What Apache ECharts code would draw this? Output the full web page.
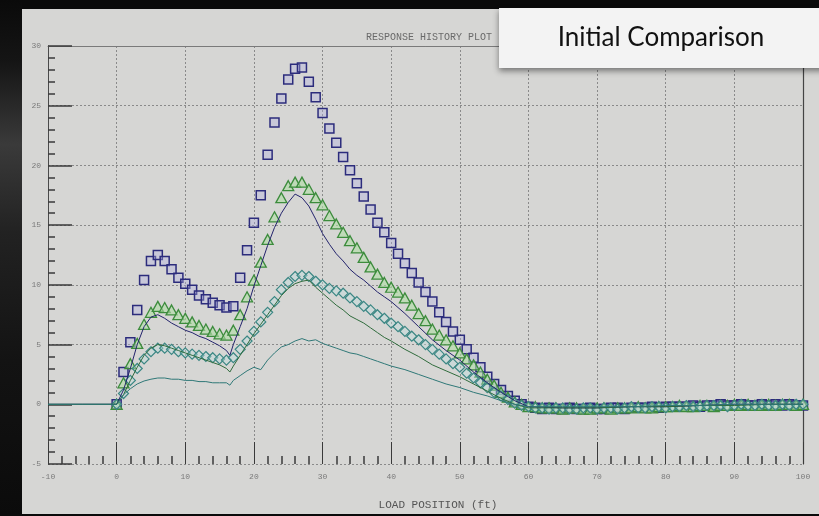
<!DOCTYPE html>
<html>
<head>
<meta charset="utf-8">
<script src="https://cdn.jsdelivr.net/npm/echarts@6/dist/echarts.min.js"></script>
<style>
  html, body { margin: 0; padding: 0; background: #0a0a0a; }
  #wrap { position: relative; width: 819px; height: 516px; overflow: hidden; background: #0a0a0a; }
  #strip { position: absolute; left: 0; top: 0; width: 22px; height: 516px;
           background: linear-gradient(180deg, #0a0a0a 0%, #151515 12%, #3a3a3a 28%, #222 45%, #131313 70%, #0b0b0b 100%); }
  #panel { position: absolute; left: 22px; top: 9px; width: 797px; height: 505px; background: #d6d6d4; }
  #chart { position: absolute; left: 0; top: 0; width: 819px; height: 516px; }
</style>
</head>
<body>
<div id="wrap">
  <div id="strip"></div>
  <div id="panel"></div>
  <div id="chart"></div>
</div>
<script>
// ---------- data ----------
const titleText = 'RESPONSE HISTORY PLOT';
const xAxisName = 'LOAD POSITION (ft)';
const overlayText = 'Initial Comparison';

// marker x positions (load position, ft)
const markX = [0,1,2,3,4,5,6,7,8,9,10,11,12,13,14,15,16,17,18,19,20,21,22,23,24,25,26,27,28,29,30,31,32,33,34,35,36,37,38,39,40,41,42,43,44,45,46,47,48,49,50,51,52,53,54,55,56,57,58,59,60,61,62,63,64,65,66,67,68,69,70,71,72,73,74,75,76,77,78,79,80,81,82,83,84,85,86,87,88,89,90,91,92,93,94,95,96,97,98,99,100];

const squareVals = [0,2.7,5.2,7.9,10.4,12.0,12.5,12.0,11.3,10.6,10.1,9.6,9.1,8.8,8.5,8.3,8.1,8.2,10.6,12.9,15.2,17.5,20.9,23.6,25.6,27.2,28.1,28.2,27.0,25.7,24.4,23.1,21.9,20.7,19.6,18.5,17.4,16.3,15.2,14.4,13.5,12.6,11.8,11.0,10.2,9.4,8.6,7.7,6.9,6.1,5.4,4.6,3.9,3.1,2.3,1.7,1.2,0.7,0.3,0.0,-0.2,
  -0.3,-0.4,-0.3,-0.4,-0.4,-0.3,-0.4,-0.4,-0.3,-0.4,
  -0.4,-0.3,-0.3,-0.4,-0.3,-0.3,-0.3,-0.2,-0.3,-0.2,
  -0.2,-0.2,-0.2,-0.1,-0.2,-0.1,-0.1,0,-0.1,-0.1,
  0,-0.1,-0.1,0,-0.1,0,-0.1,0,-0.1,-0.1];

const triangleVals = [0,1.8,3.4,5.1,6.7,7.7,8.2,8.1,7.9,7.5,7.2,6.9,6.6,6.3,6.1,5.9,5.8,6.2,7.5,9.0,10.4,11.9,13.8,15.7,17.3,18.3,18.6,18.6,18.0,17.3,16.7,15.8,15.1,14.4,13.7,13.1,12.3,11.5,10.9,10.2,9.8,9.4,8.9,8.3,7.6,7.0,6.3,5.8,5.4,4.9,4.3,3.8,3.3,2.7,2.1,1.6,1.0,0.6,0.2,0.0,-0.2,
  -0.2,-0.3,-0.3,-0.3,-0.4,-0.3,-0.3,-0.4,-0.4,-0.3,
  -0.3,-0.4,-0.3,-0.3,-0.3,-0.2,-0.3,-0.3,-0.2,-0.2,
  -0.2,-0.1,-0.2,-0.2,-0.1,-0.1,-0.2,-0.1,-0.1,0,
  -0.1,0,-0.1,-0.1,0,-0.1,0,0,-0.1,0];

const diamondVals = [0,0.9,2.0,3.0,3.8,4.4,4.7,4.7,4.6,4.4,4.3,4.2,4.1,4.0,3.9,3.8,3.7,3.9,4.6,5.3,6.1,6.9,7.7,8.6,9.6,10.2,10.7,10.8,10.7,10.3,10.0,9.7,9.5,9.3,8.9,8.6,8.2,7.9,7.5,7.2,6.8,6.5,6.1,5.7,5.4,5.0,4.6,4.2,3.8,3.4,3.1,2.6,2.2,1.8,1.4,1.0,0.7,0.4,0.1,-0.1,-0.2,
  -0.3,-0.3,-0.4,-0.3,-0.3,-0.4,-0.4,-0.3,-0.3,-0.4,
  -0.3,-0.3,-0.4,-0.3,-0.2,-0.3,-0.3,-0.2,-0.2,-0.3,
  -0.2,-0.2,-0.1,-0.2,-0.2,-0.1,-0.1,-0.1,-0.2,-0.1,
  0,-0.1,-0.1,0,-0.1,-0.1,0,-0.1,0,0];

// line x positions
const lineX = [-10,-5,0,1,2,3,4,5,6,7,8,9,10,11,12,13,14,15,16,16.5,17,18,19,20,21,22,23,24,25,26,27,28,29,30,31,32,33,34,35,36,37,38,39,40,42,44,46,48,50,52,54,56,58,60,65,70,75,80,85,90,95,100];

const blueLineVals = [0,0,0,1.2,3.0,5.0,6.5,7.3,7.5,7.2,6.8,6.5,6.2,6.0,5.7,5.5,5.2,4.9,4.5,4.1,5.0,6.5,8.0,9.9,11.6,13.3,14.8,16.0,16.9,17.6,17.3,16.6,15.5,14.3,13.4,12.6,12.0,11.3,10.8,10.4,9.9,9.4,9.0,8.6,7.6,6.5,5.4,4.5,3.7,2.7,1.8,1.0,0.3,-0.2,-0.3,-0.3,-0.2,-0.2,-0.1,0,0,0];

const greenLineVals = [0,0,0,0.8,2.0,3.1,4.1,4.7,5.0,4.9,4.7,4.5,4.3,4.1,3.9,3.7,3.5,3.3,3.0,2.7,3.2,4.1,5.0,5.9,6.7,7.5,8.3,9.1,9.7,10.1,10.3,10.4,9.8,9.3,8.8,8.3,7.9,7.4,7.1,6.8,6.4,6.0,5.6,5.3,4.6,4.0,3.3,2.8,2.3,1.7,1.1,0.5,0.0,-0.3,-0.3,-0.3,-0.2,-0.2,-0.1,-0.1,0,0];

const tealLineVals = [0,0,0,0.8,1.3,1.7,1.95,2.1,2.2,2.2,2.1,2.1,2.0,2.0,1.9,1.9,1.8,1.8,1.8,1.6,2.0,2.4,2.8,3.1,2.9,3.7,4.3,4.8,5.0,5.3,5.5,5.3,5.4,5.1,4.9,4.7,4.5,4.3,4.2,4.0,3.8,3.6,3.4,3.2,2.9,2.5,2.1,1.7,1.4,1.0,0.7,0.3,0.0,-0.2,-0.2,-0.2,-0.2,-0.1,-0.1,0,0,0];

// ---------- chart ----------
function zip(xs, ys) { return xs.map((x, i) => [x, ys[i]]); }

const chart = echarts.init(document.getElementById('chart'), null, { renderer: 'canvas' });

const mono = 'Liberation Mono';
const splitStyle = { show: true, lineStyle: { color: '#8a8a8a', type: [2, 2], width: 1 } };

const option = {
  backgroundColor: 'transparent',
  animation: false,
  title: {
    text: titleText, left: 361, top: 27,
    textStyle: { fontFamily: mono, fontSize: 10, color: '#6a6a6a', fontWeight: 'normal' }
  },
  grid: { left: 48, right: 16, top: 46, bottom: 52 },
  xAxis: [{
    type: 'value', min: -10, max: 100, interval: 10,
    axisLine: { show: false, onZero: false },
    axisTick: { show: true, inside: true, length: 22, lineStyle: { color: '#3a3a3a', width: 1 } },
    minorTick: { show: true, splitNumber: 5, length: 8, lineStyle: { color: '#3a3a3a', width: 1.5 } },
    axisLabel: { color: '#7a7a7a', fontSize: 8, fontFamily: mono, margin: 9 },
    splitLine: splitStyle,
    name: xAxisName, nameLocation: 'middle', nameGap: 36,
    nameTextStyle: { fontFamily: mono, fontSize: 11, color: '#555', padding: [0, 0, 0, 25] }
  }, {
    type: 'value', position: 'top', min: -10, max: 100, interval: 10,
    axisLine: { show: true, onZero: false, lineStyle: { color: '#7a7a7a', width: 1 } },
    axisTick: { show: false }, axisLabel: { show: false }, splitLine: { show: false }
  }],
  yAxis: [{
    type: 'value', min: -5, max: 30, interval: 5,
    axisLine: { show: true, onZero: false, lineStyle: { color: '#4a4a4a', width: 1 } },
    axisTick: { show: true, inside: true, length: 24, lineStyle: { color: '#3a3a3a', width: 1.5 } },
    minorTick: { show: true, splitNumber: 5, length: 7, lineStyle: { color: '#3a3a3a', width: 1.5 } },
    axisLabel: { color: '#7a7a7a', fontSize: 8, fontFamily: mono, margin: 7 },
    splitLine: splitStyle
  }, {
    type: 'value', position: 'right', min: -5, max: 30, interval: 5,
    axisLine: { show: true, onZero: false, lineStyle: { color: '#444', width: 1.2 } },
    axisTick: { show: false }, axisLabel: { show: false }, splitLine: { show: false }
  }],
  series: [
    {
      name: 'squares', type: 'scatter', data: zip(markX, squareVals),
      symbol: 'rect', symbolSize: 9,
      itemStyle: { color: 'rgba(175,175,225,0.35)', borderColor: '#2c2c7c', borderWidth: 1.5, opacity: 1 }
    },
    {
      name: 'triangles', type: 'scatter', data: zip(markX, triangleVals),
      symbol: 'triangle', symbolSize: [11, 10],
      itemStyle: { color: 'rgba(175,220,165,0.6)', borderColor: '#3c8c3c', borderWidth: 1.3, opacity: 1 }
    },
    {
      name: 'diamonds', type: 'scatter', data: zip(markX, diamondVals),
      symbol: 'diamond', symbolSize: [10, 10],
      itemStyle: { color: 'rgba(190,222,222,0.4)', borderColor: '#3b8784', borderWidth: 1.2, opacity: 1 }
    },
    {
      name: 'blue line', type: 'line', data: zip(lineX, blueLineVals),
      showSymbol: false, smooth: false,
      lineStyle: { color: '#23236c', width: 1 }
    },
    {
      name: 'green line', type: 'line', data: zip(lineX, greenLineVals),
      showSymbol: false, smooth: false,
      lineStyle: { color: '#2f6b3c', width: 1 }
    },
    {
      name: 'teal line', type: 'line', data: zip(lineX, tealLineVals),
      showSymbol: false, smooth: false,
      lineStyle: { color: '#2f7877', width: 1 }
    }
  ],
  graphic: [
    {
      type: 'rect', z: 100, shape: { x: 499, y: 8, width: 330, height: 60 },
      style: { fill: '#f3f3f3', shadowBlur: 6, shadowOffsetY: 3, shadowColor: 'rgba(0,0,0,0.45)' }
    },
    {
      type: 'text', z: 101, x: 661, y: 38,
      style: { text: overlayText, fill: '#111', font: '26px Lato', textAlign: 'center', textVerticalAlign: 'middle' }
    }
  ]
};

chart.setOption(option);
</script>
</body>
</html>
